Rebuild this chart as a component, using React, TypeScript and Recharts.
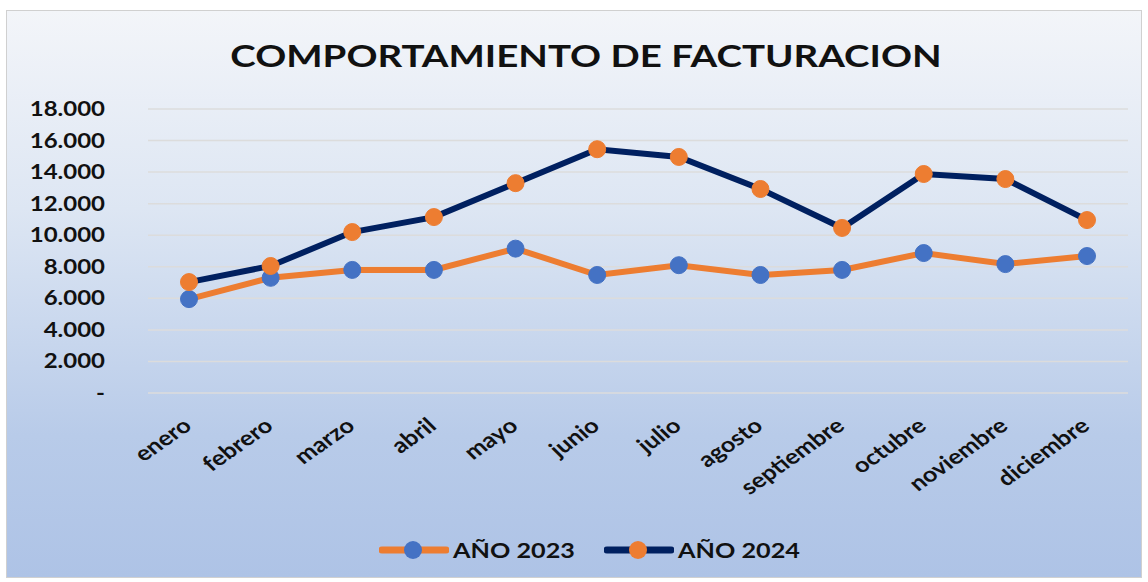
import React from "react";
import { LineChart, Line, XAxis, YAxis, CartesianGrid } from "recharts";

const months = ["enero", "febrero", "marzo", "abril", "mayo", "junio", "julio", "agosto", "septiembre", "octubre", "noviembre", "diciembre"];
const values2023 = [5950, 7300, 7800, 7800, 9150, 7480, 8100, 7480, 7800, 8870, 8170, 8680];
const values2024 = [7030, 8050, 10200, 11150, 13300, 15450, 14960, 12930, 10460, 13880, 13560, 10960];
const yTicks = [0, 2000, 4000, 6000, 8000, 10000, 12000, 14000, 16000, 18000];
const seriesNames = ["AÑO 2023", "AÑO 2024"];

const data = months.map((m, i) => ({ month: m, y2023: values2023[i], y2024: values2024[i] }));

const FONT = "Lato, 'Open Sans', sans-serif";
const ORANGE = "#ED7D31";
const NAVY = "#002060";
const BLUE = "#4472C4";
const SX = 1.2;

const fmt = (v: number) => (v === 0 ? "-" : v.toLocaleString("de-DE"));

const YTick = (props: any) => {
  const { x, y, payload } = props;
  const tx = x - 35;
  const ty = y + 7;
  return (
    <text transform={`translate(${tx} ${ty}) scale(${SX} 1)`} x={0} y={0} textAnchor="end" fontFamily={FONT} fontWeight={700} fontSize={20} fill="#111">
      {fmt(payload.value)}
    </text>
  );
};

const XTick = (props: any) => {
  const { x, y, payload } = props;
  const tx = x + 4;
  const ty = y + 27;
  return (
    <text transform={`translate(${tx} ${ty}) scale(${SX} 1) rotate(-40)`} x={0} y={0} textAnchor="end" fontFamily={FONT} fontWeight={700} fontSize={21} fill="#111">
      {payload.value}
    </text>
  );
};

const LegendItem = ({ left, line, dot, label }: { left: number; line: string; dot: string; label: string }) => (
  <div style={{ position: "absolute", left, top: 0, display: "flex", alignItems: "center" }}>
    <svg width={70} height={24} style={{ display: "block" }}>
      <line x1={3} y1={12} x2={67} y2={12} stroke={line} strokeWidth={7} strokeLinecap="round" />
      <circle cx={34} cy={12} r={9} fill={dot} />
    </svg>
    <span
      style={{
        fontFamily: FONT,
        fontWeight: 700,
        fontSize: 21,
        color: "#111",
        marginLeft: 4,
        display: "inline-block",
        transform: `scaleX(${SX})`,
        transformOrigin: "left center",
        whiteSpace: "nowrap",
      }}
    >
      {label}
    </span>
  </div>
);

export default function App() {
  return (
    <div
      style={{
        position: "absolute",
        left: 6,
        top: 10,
        width: 1134,
        height: 566,
        border: "1px solid #d0d0d0",
        background: "linear-gradient(to bottom, #f3f5f9 0%, #dde6f3 35%, #b8cbe9 75%, #aec3e6 100%)",
      }}
    >
      <div
        style={{
          position: "absolute",
          left: 12,
          width: 1134,
          top: 25,
          textAlign: "center",
          fontFamily: FONT,
          fontWeight: 700,
          fontSize: 31,
          color: "#111",
          transform: "scaleX(1.24)",
          transformOrigin: "50% 50%",
          whiteSpace: "nowrap",
        }}
      >
        COMPORTAMIENTO DE FACTURACION
      </div>
      <div style={{ position: "absolute", top: 526, left: 0, width: "100%", height: 30 }}>
        <LegendItem left={372} line={ORANGE} dot={BLUE} label={seriesNames[0]} />
        <LegendItem left={597} line={NAVY} dot={ORANGE} label={seriesNames[1]} />
      </div>
      <LineChart width={1134} height={566} data={data} margin={{ top: 98, right: 13, bottom: 86, left: 21 }}>
        <CartesianGrid vertical={false} stroke="#dcdcdc" strokeWidth={1.5} />
        <XAxis dataKey="month" axisLine={false} tickLine={false} height={98} tick={<XTick />} interval={0} padding={{ left: 41, right: 41 }} />
        <YAxis width={120} domain={[0, 18000]} ticks={yTicks} axisLine={false} tickLine={false} tick={<YTick />} interval={0} />
        <Line
          type="linear"
          dataKey="y2023"
          name={seriesNames[0]}
          stroke={ORANGE}
          strokeWidth={6}
          dot={{ r: 8.5, fill: BLUE, stroke: BLUE, strokeWidth: 1 }}
          isAnimationActive={false}
        />
        <Line
          type="linear"
          dataKey="y2024"
          name={seriesNames[1]}
          stroke={NAVY}
          strokeWidth={6}
          dot={{ r: 8.5, fill: ORANGE, stroke: ORANGE, strokeWidth: 1 }}
          isAnimationActive={false}
        />
      </LineChart>
    </div>
  );
}
